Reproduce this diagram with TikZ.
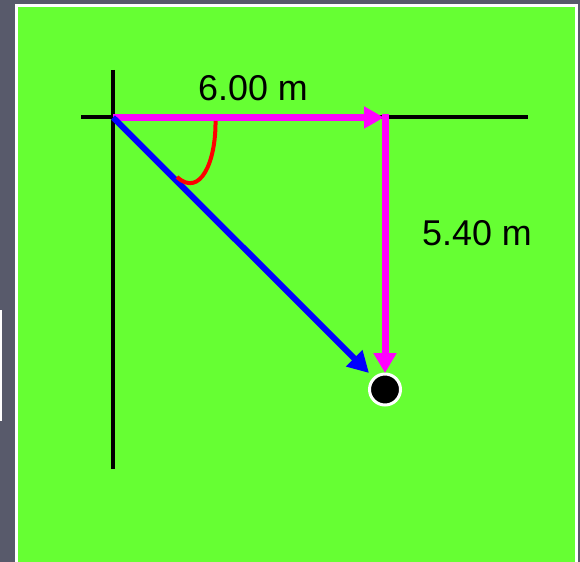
\documentclass[tikz,border=0pt]{standalone}
\usepackage{fontspec}
\setmainfont{Liberation Sans}
\usetikzlibrary{arrows.meta}
\definecolor{bggray}{HTML}{585A6B}
\definecolor{fieldgreen}{HTML}{66FF33}
\definecolor{vecmag}{HTML}{FF00FF}
\definecolor{vecblue}{HTML}{0000FF}
\definecolor{arcred}{HTML}{FF0000}
\begin{document}
\begin{tikzpicture}[x=1bp,y=-1bp,
  axis/.style={black,line width=4bp},
  magvec/.style={vecmag,line width=7bp},
  bluevec/.style={vecblue,line width=6bp,-{Triangle[length=21bp,width=22bp]}},
  lbl/.style={font=\fontsize{36}{40}\selectfont,anchor=base,inner sep=0pt},
  ball/.style={circle,fill=black,draw=white,line width=3bp,minimum size=31bp,inner sep=0pt}]
\fill[bggray] (0,0) rectangle (580,562);
\useasboundingbox (0,0) rectangle (580,562);
\fill[white] (15,4) rectangle (577.5,562);
\fill[fieldgreen] (18,7) rectangle (575,562);
\draw[white,line width=1.5bp] (0.75,310) -- (0.75,421);
% coordinates
\coordinate (O) at (113,117.5);
\coordinate (ytop) at (113,70);
\coordinate (ybot) at (113,469);
\coordinate (xleft) at (81,117.5);
\coordinate (xright) at (528,117.5);
\coordinate (Cv) at (385,114);
\coordinate (Hend) at (384,117.5);
\node[ball] (B) at (385,389.5) {};
\coordinate (Vend) at (385,373);
\coordinate (Bend) at (369,373);
% axes
\draw[axis] (ytop) -- (ybot);
\draw[axis] (xleft) -- (xright);
% magenta vectors
\draw[magvec,-{Triangle[length=20bp,width=21bp]}] (O) -- (Hend);
\draw[magvec,-{Triangle[length=20bp,width=22bp]}] (Cv) -- (Vend);
% blue resultant
\draw[bluevec] (O) -- (Bend);
% angle arc
\coordinate (a1) at (215.5,121);
\coordinate (a2) at (177,177);
\draw[arcred,line width=4bp] (a1) .. controls (216,162) and (200,198) .. (a2);
% labels
\node[lbl] (L1) at (253,101) {6.00 m};
\node[lbl] (L2) at (477,245) {5.40 m};
\end{tikzpicture}
\end{document}
